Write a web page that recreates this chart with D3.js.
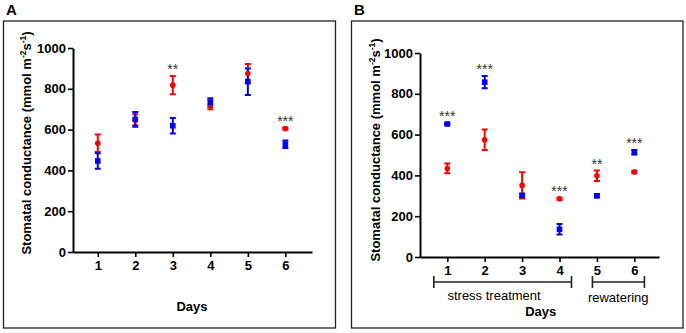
<!DOCTYPE html>
<html>
<head>
<meta charset="utf-8">
<script src="https://cdn.jsdelivr.net/npm/d3@7"></script>
<style>
  body { margin: 0; background: #fff; }
  text { font-family: "Liberation Sans", Arial, sans-serif; }
</style>
</head>
<body>
<svg width="686" height="333"></svg>
<script>
// values (mmol m-2 s-1)
var days = [1, 2, 3, 4, 5, 6];
var yTicks = [0, 200, 400, 600, 800, 1000];

var aRedMean = [533, 648, 818, 722, 875, 605];
var aRedErr  = [43, 27, 45, 22, 47, 5];
var aBlueMean = [446, 650, 619, 733, 835, 528];
var aBlueErr  = [38, 36, 38, 21, 65, 18];
var aSig = ["", "", "**", "", "", "***"];

var bRedMean = [434, 575, 351, 285, 398, 417];
var bRedErr  = [24, 50, 64, 6, 26, 6];
var bBlueMean = [652, 857, 302, 136, 300, 513];
var bBlueErr  = [5, 30, 8, 26, 7, 11];
var bSig = ["***", "***", "", "***", "**", "***"];

var bPhases = [
  {label: "stress treatment", from: 0.64, to: 4.32, at: 2.25},
  {label: "rewatering", from: 4.88, to: 6.27, at: 5.57}
];

var red = "#ff0000", blue = "#0000ff";

var svg = d3.select("svg");

var panels = [
  {letter: "A", box: [3.5, 21, 332, 307], left: 73, right: 312, top: 48, bottom: 252,
   domain: [0.34, 6.71], red: [aRedMean, aRedErr], blue: [aBlueMean, aBlueErr], sig: aSig,
   labelX: 30.5, labelY: 143, daysY: 311, daysX: 192},
  {letter: "B", box: [351.5, 21, 331.5, 307], left: 420, right: 659, top: 53, bottom: 257,
   domain: [0.27, 6.66], red: [bRedMean, bRedErr], blue: [bBlueMean, bBlueErr], sig: bSig,
   labelX: 380, labelY: 150, daysY: 316, daysX: 540.7, phases: bPhases}
];

panels.forEach(drawPanel);

function drawPanel(p) {
  var g = svg.append("g");

  g.append("rect")
      .attr("x", p.box[0]).attr("y", p.box[1])
      .attr("width", p.box[2]).attr("height", p.box[3])
      .attr("fill", "none").attr("stroke", "#222").attr("stroke-width", 1.3);

  g.append("text")
      .attr("x", p.box[0] + 2.5).attr("y", 14.5)
      .attr("font-size", 15).attr("font-weight", "bold")
      .text(p.letter);

  var x = d3.scaleLinear().domain(p.domain).range([p.left, p.right]);
  var y = d3.scaleLinear().domain([0, 1000]).range([p.bottom, p.top]);

  var xAxis = g.append("g")
      .attr("transform", "translate(0," + p.bottom + ")")
      .call(d3.axisBottom(x).tickValues(days).tickFormat(d3.format("d"))
        .tickSize(5).tickSizeOuter(0).tickPadding(4));

  var yAxis = g.append("g")
      .attr("transform", "translate(" + p.left + ",0)")
      .call(d3.axisLeft(y).tickValues(yTicks).tickFormat(d3.format("d"))
        .tickSize(5).tickSizeOuter(0).tickPadding(2));

  [xAxis, yAxis].forEach(function(a) {
    a.select(".domain").attr("stroke", "#000").attr("stroke-width", 2);
    a.selectAll(".tick line").attr("stroke", "#000").attr("stroke-width", 1.6);
    a.selectAll(".tick text")
        .attr("fill", "#000")
        .attr("font-size", 13)
        .attr("font-weight", "bold")
        .attr("font-family", "Liberation Sans, Arial, sans-serif");
  });

  // y label
  var yl = g.append("text")
      .attr("transform", "translate(" + p.labelX + "," + p.labelY + ") rotate(-90)")
      .attr("text-anchor", "middle")
      .attr("font-size", 13).attr("font-weight", "bold");
  yl.append("tspan").text("Stomatal conductance (mmol m");
  yl.append("tspan").attr("font-size", 8.5).attr("dy", -5).text("-2");
  yl.append("tspan").attr("dy", 5).text("s");
  yl.append("tspan").attr("font-size", 8.5).attr("dy", -5).text("-1");
  yl.append("tspan").attr("dy", 5).text(")");

  g.append("text")
      .attr("x", p.daysX).attr("y", p.daysY)
      .attr("text-anchor", "middle")
      .attr("font-size", 13).attr("font-weight", "bold")
      .text("Days");

  if (p.phases) {
    var by = p.bottom + 25;
    var ph = g.selectAll(".phase").data(p.phases).enter().append("g");
    ph.append("path")
        .attr("d", function(d) {
          return "M" + x(d.from) + "," + (by - 6) + "V" + (by + 6) +
                 "M" + x(d.from) + "," + by + "H" + x(d.to) +
                 "M" + x(d.to) + "," + (by - 6) + "V" + (by + 6);
        })
        .attr("fill", "none").attr("stroke", "#222").attr("stroke-width", 1.6);
    ph.append("text")
        .attr("x", function(d) { return x(d.at); })
        .attr("y", function(d, i) { return by + 18 + i * 2; })
        .attr("text-anchor", "middle")
        .attr("font-size", 13)
        .text(function(d) { return d.label; });
  }

  function rows(s) {
    return days.map(function(d, i) { return {day: d, m: s[0][i], e: s[1][i]}; });
  }

  function errBars(s, color) {
    var eb = g.append("g").attr("stroke", color).attr("stroke-width", 2).attr("fill", "none");
    eb.selectAll("path").data(rows(s)).enter().append("path")
        .attr("d", function(d) {
          var cx = x(d.day), y0 = y(d.m - d.e), y1 = y(d.m + d.e);
          return "M" + cx + "," + y0 + "V" + y1 +
                 "M" + (cx - 3) + "," + y0 + "H" + (cx + 3) +
                 "M" + (cx - 3) + "," + y1 + "H" + (cx + 3);
        });
  }

  errBars(p.red, red);
  errBars(p.blue, blue);

  g.append("g").selectAll("circle").data(rows(p.red)).enter().append("circle")
      .attr("cx", function(d) { return x(d.day); })
      .attr("cy", function(d) { return y(d.m); })
      .attr("r", 2.8)
      .attr("fill", red);

  g.append("g").selectAll("rect").data(rows(p.blue)).enter().append("rect")
      .attr("x", function(d) { return x(d.day) - 2.8; })
      .attr("y", function(d) { return y(d.m) - 2.8; })
      .attr("width", 5.6).attr("height", 5.6)
      .attr("fill", blue);

  // significance stars above the higher of the two points
  g.append("g").selectAll("text").data(days).enter().append("text")
      .attr("x", function(d) { return x(d); })
      .attr("y", function(d, i) {
        var top = Math.min(y(p.red[0][i] + p.red[1][i]), y(p.blue[0][i] + p.blue[1][i])) - 2.8;
        return top - 7 + 8;
      })
      .attr("text-anchor", "middle")
      .attr("font-size", 14)
      .attr("fill", "#333")
      .text(function(d, i) { return p.sig[i]; });
}
</script>
</body>
</html>
